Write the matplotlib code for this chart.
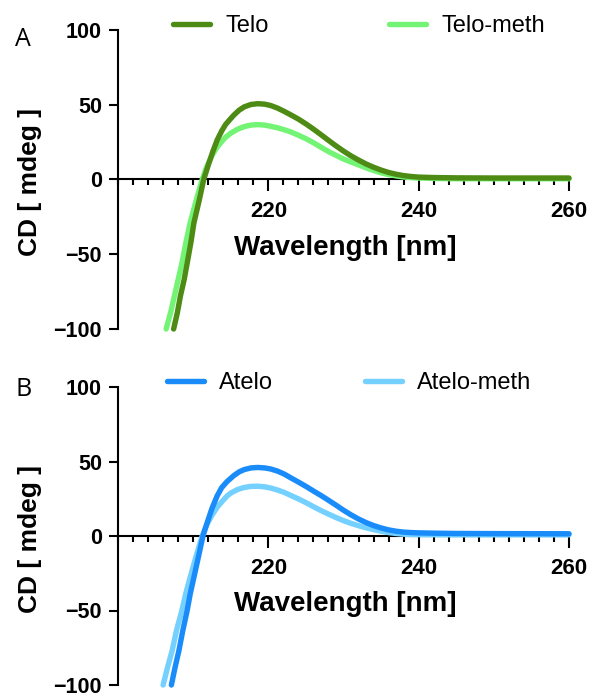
import matplotlib
matplotlib.use("Agg")
import matplotlib.pyplot as plt
from matplotlib.ticker import MultipleLocator

plt.rcParams['font.family'] = ['Liberation Sans', 'DejaVu Sans']

# Panel A - telopeptide collagen
telo_wl = [207.4, 207.9, 208.3, 208.8, 209.2, 209.7, 210.1, 210.8, 211.4, 212.0, 212.6, 213.2,
           213.8, 214.3, 214.9, 215.4, 216.1, 216.8, 217.7, 218.6, 219.5, 220.3, 221.2, 222.1,
           223.0, 224.0, 225.0, 226.0, 227.0, 228.0, 229.0, 230.0, 231.0, 232.0, 233.0, 234.0,
           235.0, 236.0, 237.0, 238.0, 239.0, 240.0, 242, 245, 250, 260]
telo_cd = [-100, -89, -78, -67, -56, -42, -29, -14, 0, 9.5, 18.5, 26.5,
           32.5, 36.7, 40.2, 43, 46.3, 48.6, 50.2, 50.7, 50.4, 49.5, 47.8, 45.6,
           43.2, 40.4, 37.2, 33.7, 30.0, 26.2, 22.5, 19.0, 15.8, 13.0, 10.4, 8.2,
           6.3, 4.7, 3.5, 2.6, 2.0, 1.6, 1.3, 1.1, 1, 1]

telo_meth_wl = [206.4, 207.0, 207.5, 208.0, 208.5, 209.0, 209.6, 210.4, 211.2, 211.8, 212.5, 213.1,
                213.7, 214.3, 215.0, 215.9, 216.8, 217.7, 218.6, 219.5, 220.3, 221.2, 222.1, 223.0,
                224.0, 225.0, 226.0, 227.0, 228.0, 229.0, 230.0, 231.0, 232.0, 233.0, 234.0, 235.0,
                236.0, 237.0, 238.0, 239.0, 240, 242, 245, 250, 260]
telo_meth_cd = [-100, -89, -78, -67, -56, -43, -29, -14, 0, 8.5, 16, 21,
                24.8, 28.2, 31, 33.6, 35.4, 36.4, 36.7, 36.4, 35.6, 34.6, 33.3, 31.8,
                29.6, 27.3, 24.6, 21.6, 18.7, 16.2, 13.7, 11.7, 9.8, 7.8, 6.0, 4.5,
                3.3, 2.4, 1.7, 1.3, 1.0, 0.7, 0.5, 0.5, 0.5]

# Panel B - atelocollagen
atelo_wl = [207.1, 207.6, 208.1, 208.6, 209.2, 209.6, 210.1, 210.7, 211.3, 211.9, 212.5, 213.2,
            213.8, 214.5, 215.4, 216.1, 216.8, 217.7, 218.6, 219.5, 220.3, 221.2, 222.1, 223.0,
            224.0, 225.0, 226.0, 227.0, 228.0, 229.0, 230.0, 231.0, 232.0, 233.0, 234.0, 235.0,
            236.0, 237.0, 238.0, 239.0, 240, 242, 245, 250, 260]
atelo_cd = [-100, -88, -77, -64, -50, -39, -27.7, -14, 0, 9.5, 18.5, 27,
            32.5, 36.5, 40.5, 43, 44.6, 45.7, 46, 45.7, 45, 43.6, 41.6, 39,
            36.2, 33.3, 30.2, 27.2, 24.0, 20.7, 17.3, 14.2, 11.4, 9.0, 7.0, 5.4,
            4.1, 3.2, 2.6, 2.3, 2.1, 1.9, 1.7, 1.6, 1.5]

atelo_meth_wl = [206.0, 206.6, 207.2, 207.8, 208.5, 209.0, 209.6, 210.4, 211.2, 211.8, 212.5, 213.2,
                 213.9, 214.5, 215.0, 215.9, 216.8, 217.7, 218.6, 219.5, 220.3, 221.2, 222.1, 223.0,
                 224.0, 225.0, 226.0, 227.0, 228.0, 229.0, 230.0, 231.0, 232.0, 233.0, 234.0, 235.0,
                 236.0, 237.0, 238.0, 239.0, 240, 245, 250, 260]
atelo_meth_cd = [-100, -88, -77, -63, -50, -39, -27.7, -13.5, 0, 7.5, 14, 19.3,
                 23.5, 26.8, 28.8, 31.2, 32.6, 33.3, 33.4, 33.0, 32.2, 30.9, 29.3, 27.2,
                 24.9, 22.4, 19.7, 17.1, 14.7, 12.4, 10.3, 8.5, 6.9, 5.5, 4.3, 3.2,
                 2.3, 1.7, 1.2, 1.0, 0.9, 0.8, 0.8, 0.8]

W, H = 589, 693
fig = plt.figure(figsize=(W / 100, H / 100), dpi=100)


def make_panel(rect, letter, letter_xy, series, legend_xy, colspace):
    ax = fig.add_axes(rect)
    handles = []
    for i, (wl, cd, color, label) in enumerate(series):
        ln, = ax.plot(wl, cd, color=color, lw=3.9, label=label,
                      solid_capstyle='round', solid_joinstyle='round',
                      zorder=4 - i, clip_on=False)
        handles.append(ln)
    ax.set_xlim(200, 260)
    ax.set_ylim(-100, 100)
    ax.spines['top'].set_visible(False)
    ax.spines['right'].set_visible(False)
    ax.spines['bottom'].set_position(('data', 0))
    ax.spines['left'].set_linewidth(1.5)
    ax.spines['bottom'].set_linewidth(1.5)
    ax.set_xticks([220, 240, 260])
    ax.xaxis.set_minor_locator(MultipleLocator(2))
    ax.set_yticks([-100, -50, 0, 50, 100])
    ax.tick_params(axis='x', which='major', length=8.6, width=1.5, pad=7, labelsize=16)
    ax.tick_params(axis='x', which='minor', length=4.5, width=1.5)
    ax.tick_params(axis='y', which='major', length=6.5, width=1.5, pad=5, labelsize=15.5)
    for t in ax.get_xticklabels() + ax.get_yticklabels():
        t.set_fontweight('bold')
    ax.text(0.503, 0.271, 'Wavelength [nm]', transform=ax.transAxes,
            ha='center', va='center', fontsize=20, fontweight='bold')
    ax.text(-0.195, 0.49, 'CD [ mdeg ]', transform=ax.transAxes, rotation=90,
            ha='center', va='center', fontsize=19, fontweight='bold')
    fig.text(letter_xy[0] / W, 1 - letter_xy[1] / H, letter, ha='center', va='center',
             fontsize=18, family=['Open Sans', 'DejaVu Sans'])
    ax.legend(handles=handles, loc='center left', ncol=2, frameon=False,
              bbox_to_anchor=(legend_xy[0] / W, 1 - legend_xy[1] / H),
              bbox_transform=fig.transFigure, borderpad=0, borderaxespad=0,
              handlelength=1.57, handletextpad=0.64, columnspacing=colspace,
              fontsize=17)
    return ax


make_panel([118 / W, 1 - 329 / H, 451 / W, 299 / H], 'A', (23, 40),
           [(telo_wl, telo_cd, '#4e8b14', 'Telo'),
            (telo_meth_wl, telo_meth_cd, '#74f474', 'Telo-meth')],
           (173, 26), 5.1)
make_panel([118 / W, 1 - 685 / H, 451 / W, 298 / H], 'B', (24, 390),
           [(atelo_wl, atelo_cd, '#1a8cfa', 'Atelo'),
            (atelo_meth_wl, atelo_meth_cd, '#74d0ff', 'Atelo-meth')],
           (167, 383), 3.9)

fig.savefig('out.png', dpi=100)
